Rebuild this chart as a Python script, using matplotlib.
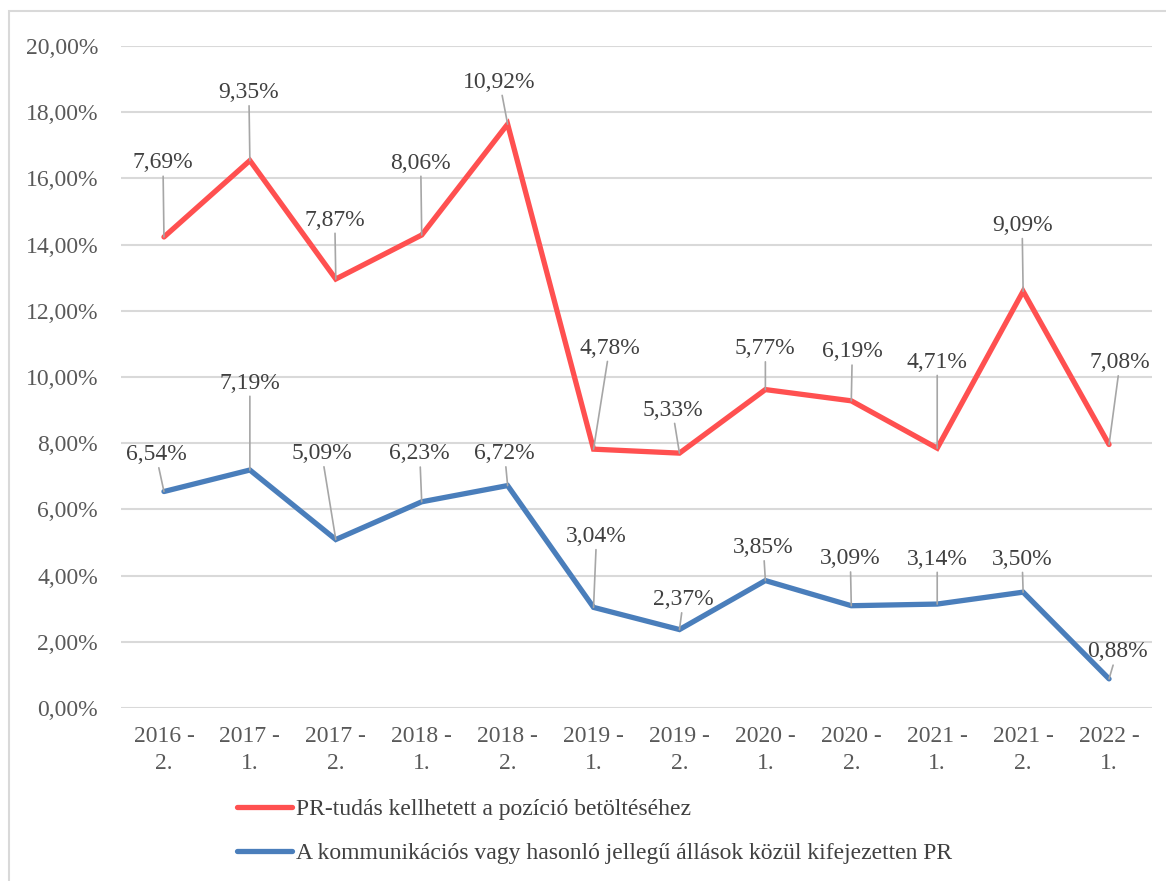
import numpy as np
import matplotlib
matplotlib.use("Agg")
import matplotlib.pyplot as plt
from matplotlib.patches import Rectangle

plt.rcParams['font.family'] = ['Liberation Serif', 'DejaVu Serif']

categories = ['2016 -\n2.', '2017 -\n1.', '2017 -\n2.', '2018 -\n1.', '2018 -\n2.', '2019 -\n1.',
              '2019 -\n2.', '2020 -\n1.', '2020 -\n2.', '2021 -\n1.', '2021 -\n2.', '2022 -\n1.']
# blue: kifejezetten PR, red: PR-tudas (stacked on top of blue)
blue_vals = [6.54, 7.19, 5.09, 6.23, 6.72, 3.04, 2.37, 3.85, 3.09, 3.14, 3.50, 0.88]
red_vals = [7.69, 9.35, 7.87, 8.06, 10.92, 4.78, 5.33, 5.77, 6.19, 4.71, 9.09, 7.08]
series_names = ['PR-tudás kellhetett a pozíció betöltéséhez',
                'A kommunikációs vagy hasonló jellegű állások közül kifejezetten PR']

# label offsets in pixels (dx, dy) -- layout only
red_off = [(-1, 74), (-1, 68), (-1, 59), (-1, 72), (-8, 42), (16, 101),
           (-7, 43), (0, 41), (1, 49), (0, 86), (-1, 66), (11, 82)]
blue_off = [(-8, 37), (0, 87), (-14, 86), (-2, 48), (-3, 32), (3, 71),
            (4, 30), (-2, 33), (-1, 47), (0, 45), (-1, 33), (8, 27)]

RED = '#FF5050'
BLUE = '#4A7EBB'
TXT = '#404040'
TICK = '#595959'
FS = 17

blue = np.array(blue_vals)
red = blue + np.array(red_vals)
x = np.arange(len(categories))

fig = plt.figure(figsize=(11.66, 8.81), dpi=100)
ax = fig.add_axes([121/1166, 1-708/881, (1152-121)/1166, (708-46)/881])

fig.patches.append(Rectangle((9/1166, -0.1), 1.2, 1-11/881+0.1, transform=fig.transFigure,
                             fill=False, edgecolor='#D9D9D9', linewidth=1.5, zorder=0))

l1, = ax.plot(x, red, color=RED, linewidth=3.8, solid_capstyle='round', solid_joinstyle='miter', zorder=3)
l2, = ax.plot(x, blue, color=BLUE, linewidth=3.8, solid_capstyle='round', solid_joinstyle='miter', zorder=3)

def fmt(v):
    return ('%.2f%%' % v).replace('.', ',')

for i in range(len(x)):
    ax.annotate(fmt(red_vals[i]), (x[i], red[i]), xytext=red_off[i], textcoords='offset pixels',
                ha='center', va='center', fontsize=FS, color=TXT,
                arrowprops=dict(arrowstyle='-', color='#A6A6A6', lw=1.2, shrinkA=0, shrinkB=0))
    ax.annotate(fmt(blue_vals[i]), (x[i], blue[i]), xytext=blue_off[i], textcoords='offset pixels',
                ha='center', va='center', fontsize=FS, color=TXT,
                arrowprops=dict(arrowstyle='-', color='#A6A6A6', lw=1.2, shrinkA=0, shrinkB=0))

ax.set_xlim(-0.5, len(x) - 0.5)
ax.set_ylim(0, 20)
ax.set_yticks(np.arange(0, 21, 2))
ax.set_yticklabels([fmt(v) for v in np.arange(0, 21, 2)])
ax.set_xticks(x)
ax.set_xticklabels(categories, linespacing=1.35)
ax.tick_params(axis='both', length=0, labelsize=FS, colors=TICK)
ax.tick_params(axis='y', pad=16.5)
ax.tick_params(axis='x', pad=13)
ax.grid(axis='y', color='#D9D9D9', linewidth=1.5)
ax.set_axisbelow(True)
for s in ax.spines.values():
    s.set_visible(False)

fig.legend([l1, l2], series_names, loc='upper left', bbox_to_anchor=(228/1166, 1-789/881),
           frameon=False, fontsize=FS, labelcolor=TXT, handlelength=2.3, handletextpad=0.2,
           labelspacing=0.95, borderaxespad=0)

fig.savefig('out.png', dpi=100)
